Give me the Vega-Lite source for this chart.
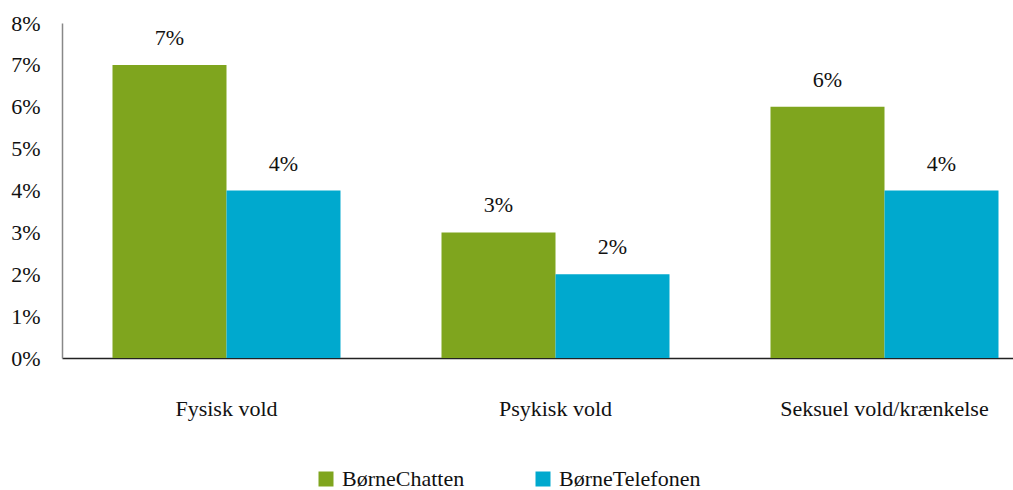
{
  "$schema": "https://vega.github.io/schema/vega-lite/v6.json",
  "width": 987,
  "height": 335,
  "autosize": "none",
  "padding": {"left": 62, "top": 23, "right": 0, "bottom": 132},
  "background": "white",
  "config": {
    "view": {"stroke": null},
    "font": "Liberation Serif"
  },
  "data": {
    "values": [
      {"kategori": "Fysisk vold", "kilde": "BørneChatten", "andel": 0.07},
      {"kategori": "Fysisk vold", "kilde": "BørneTelefonen", "andel": 0.04},
      {"kategori": "Psykisk vold", "kilde": "BørneChatten", "andel": 0.03},
      {"kategori": "Psykisk vold", "kilde": "BørneTelefonen", "andel": 0.02},
      {"kategori": "Seksuel vold/krænkelse", "kilde": "BørneChatten", "andel": 0.06},
      {"kategori": "Seksuel vold/krænkelse", "kilde": "BørneTelefonen", "andel": 0.04}
    ]
  },
  "encoding": {
    "x": {
      "field": "kategori", "type": "nominal", "sort": null, "title": null,
      "scale": {"paddingInner": 0.307, "paddingOuter": 0.1535},
      "axis": {"labelAngle": 0, "ticks": false, "domainColor": "#222222", "domainWidth": 1.5, "labelFontSize": 22, "labelColor": "#111111", "labelPadding": 50, "labelFont": "Liberation Serif", "labelBaseline": "middle", "labelLimit": 400}
    },
    "xOffset": {"field": "kilde", "type": "nominal", "sort": ["BørneChatten", "BørneTelefonen"]},
    "y": {
      "field": "andel", "type": "quantitative", "title": null,
      "scale": {"domain": [0, 0.08]},
      "axis": {"format": ".0%", "values": [0, 0.01, 0.02, 0.03, 0.04, 0.05, 0.06, 0.07, 0.08], "labelOverlap": false, "labelBound": false, "labelFlush": false, "grid": false, "ticks": false, "domainColor": "#888888", "domainWidth": 1.5, "labelFontSize": 22, "labelColor": "#111111", "labelPadding": 22, "labelFont": "Liberation Serif"}
    }
  },
  "layer": [
    {
      "mark": {"type": "bar"},
      "encoding": {
        "color": {
          "field": "kilde", "type": "nominal", "title": null,
          "scale": {"domain": ["BørneChatten", "BørneTelefonen"], "range": ["#7FA51E", "#00A9CE"]},
          "legend": {"orient": "none", "legendX": 253, "legendY": 445, "direction": "horizontal", "columns": 2, "symbolType": "square", "symbolSize": 225, "symbolStrokeWidth": 0, "symbolOpacity": 1, "labelFontSize": 22, "labelColor": "#111111", "labelFont": "Liberation Serif", "columnPadding": 67, "labelOffset": 5, "labelLimit": 300}
        }
      }
    },
    {
      "mark": {"type": "text", "baseline": "middle", "dy": -27, "fontSize": 22, "color": "#111111", "font": "Liberation Serif"},
      "encoding": {
        "text": {"field": "andel", "type": "quantitative", "format": ".0%"}
      }
    }
  ]
}
